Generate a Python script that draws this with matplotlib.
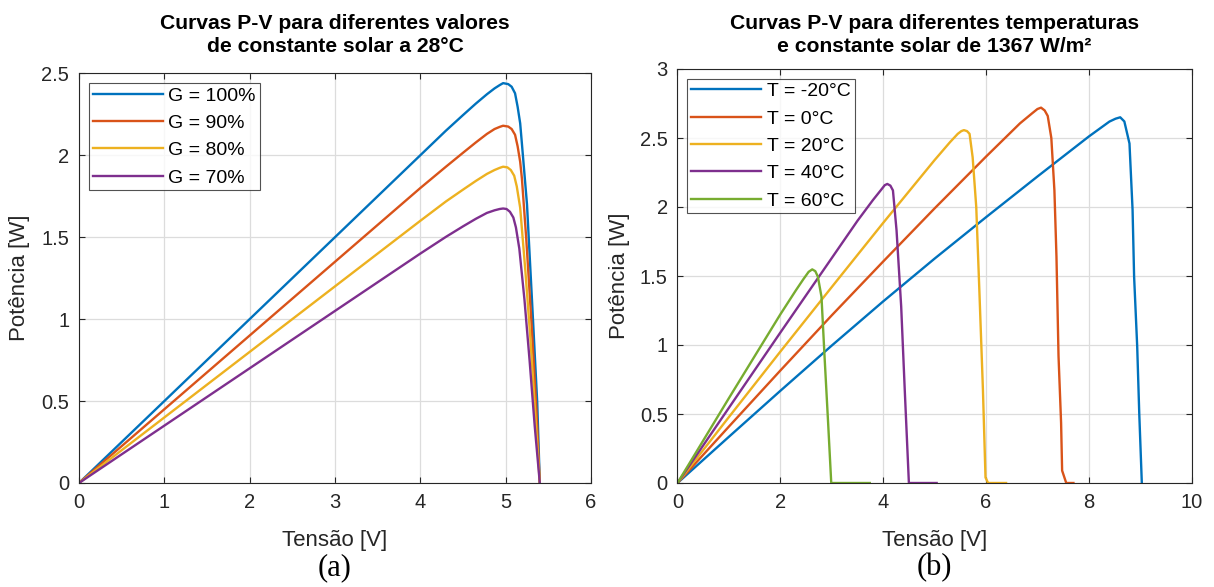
import matplotlib
matplotlib.use("Agg")
import matplotlib.pyplot as plt
from matplotlib.ticker import FuncFormatter, MultipleLocator

# ---------------- data (a) ----------------
g_labels = ['G = 100%', 'G = 90%', 'G = 80%', 'G = 70%']
v_g100 = [0, 4.0, 4.3, 4.5, 4.65, 4.78, 4.87, 4.93, 4.97, 5.03, 5.07, 5.11, 5.14, 5.17, 5.19, 5.25, 5.31, 5.37, 5.40]
p_g100 = [0, 2.0, 2.15, 2.245, 2.315, 2.372, 2.408, 2.428, 2.44, 2.434, 2.418, 2.378, 2.296, 2.195, 2.073, 1.70, 1.10, 0.49, 0.0]
v_g90 = [0, 4.0, 4.3, 4.5, 4.65, 4.78, 4.87, 4.93, 4.97, 5.03, 5.07, 5.11, 5.14, 5.17, 5.19, 5.24, 5.30, 5.36, 5.40]
p_g90 = [0, 1.8, 1.93, 2.015, 2.078, 2.13, 2.16, 2.173, 2.18, 2.175, 2.16, 2.125, 2.055, 1.96, 1.86, 1.50, 1.00, 0.45, 0]
v_g80 = [0, 4.0, 4.3, 4.5, 4.65, 4.78, 4.87, 4.93, 4.97, 5.02, 5.06, 5.10, 5.13, 5.17, 5.23, 5.29, 5.35, 5.40]
p_g80 = [0, 1.6, 1.718, 1.79, 1.843, 1.886, 1.91, 1.923, 1.93, 1.926, 1.91, 1.875, 1.81, 1.68, 1.30, 0.88, 0.40, 0]
v_g70 = [0, 4.0, 4.3, 4.5, 4.65, 4.78, 4.87, 4.93, 4.97, 5.01, 5.05, 5.09, 5.12, 5.16, 5.22, 5.28, 5.34, 5.40]
p_g70 = [0, 1.4, 1.502, 1.566, 1.612, 1.648, 1.664, 1.672, 1.675, 1.672, 1.655, 1.62, 1.56, 1.43, 1.12, 0.75, 0.35, 0]

# ---------------- data (b) ----------------
t_labels = ['T = -20°C', 'T = 0°C', 'T = 20°C', 'T = 40°C', 'T = 60°C']
v_tm20 = [0, 1, 2, 3, 4, 5, 6, 7, 8, 8.4, 8.52, 8.61, 8.69, 8.79, 8.85, 8.88, 8.94, 8.98, 9.03]
p_tm20 = [0, 0.335, 0.668, 0.996, 1.316, 1.626, 1.926, 2.221, 2.511, 2.619, 2.64, 2.65, 2.62, 2.46, 1.98, 1.495, 0.99, 0.505, 0]
v_t0 = [0, 1, 2, 3, 4, 5, 6, 6.66, 6.9, 7.0, 7.07, 7.14, 7.20, 7.27, 7.33, 7.37, 7.41, 7.46, 7.48, 7.56, 7.70]
p_t0 = [0, 0.409, 0.815, 1.215, 1.605, 1.99, 2.365, 2.606, 2.68, 2.71, 2.72, 2.70, 2.66, 2.50, 2.12, 1.64, 0.92, 0.435, 0.09, 0, 0]
v_t20 = [0, 1, 2, 3, 4, 5, 5.3, 5.45, 5.52, 5.57, 5.63, 5.68, 5.74, 5.81, 5.87, 5.94, 5.99, 6.04, 6.39]
p_t20 = [0, 0.478, 0.952, 1.42, 1.885, 2.34, 2.47, 2.53, 2.55, 2.557, 2.55, 2.53, 2.36, 2.0, 1.40, 0.675, 0.04, 0, 0]
v_t40 = [0, 1, 2, 3, 3.5, 3.8, 3.95, 4.03, 4.08, 4.14, 4.19, 4.26, 4.35, 4.42, 4.50, 5.04]
p_t40 = [0, 0.545, 1.09, 1.63, 1.90, 2.05, 2.12, 2.158, 2.167, 2.155, 2.12, 1.83, 1.28, 0.67, 0, 0]
v_t60 = [0, 1, 2, 2.3, 2.45, 2.55, 2.62, 2.68, 2.73, 2.80, 2.86, 2.93, 2.99, 3.74]
p_t60 = [0, 0.615, 1.222, 1.395, 1.478, 1.53, 1.548, 1.535, 1.495, 1.35, 0.915, 0.43, 0, 0]

colors = ['#0072BD', '#D95319', '#EDB120', '#7E2F8E', '#77AC30']

plt.rcParams['font.family'] = ['Liberation Sans', 'DejaVu Sans']
dark = '#262626'

W, H = 1214, 587
fig = plt.figure(figsize=(W / 100, H / 100), dpi=100)

def px_axes(x0, x1, ytop, ybot):
    return fig.add_axes([x0 / W, 1 - ybot / H, (x1 - x0) / W, (ybot - ytop) / H])

axA = px_axes(79, 591, 73.3, 483)
axB = px_axes(677.5, 1191.7, 69, 483)

fmt = FuncFormatter(lambda v, p: '%g' % v)

def style(ax, xmax, ymax, xstep, ystep):
    ax.set_xlim(0, xmax)
    ax.set_ylim(0, ymax)
    ax.xaxis.set_major_locator(MultipleLocator(xstep))
    ax.yaxis.set_major_locator(MultipleLocator(ystep))
    ax.xaxis.set_major_formatter(fmt)
    ax.yaxis.set_major_formatter(fmt)
    ax.grid(True, color='#dcdcdc', linewidth=0.9)
    ax.set_axisbelow(True)
    ax.tick_params(direction='in', top=True, right=True, length=4, width=0.8,
                   color=dark, labelcolor=dark, labelsize=14.5, pad=7)
    for s in ax.spines.values():
        s.set_color(dark)
        s.set_linewidth(0.8)
    ax.set_xlabel('Tensão [V]', fontsize=16, color=dark)
    ax.set_ylabel('Potência [W]', fontsize=16, color=dark)

style(axA, 6, 2.5, 1, 0.5)
style(axB, 10, 3, 2, 0.5)

lw = 1.7
for v, p, c, lab in zip([v_g100, v_g90, v_g80, v_g70], [p_g100, p_g90, p_g80, p_g70], colors, g_labels):
    axA.plot(v, p, color=c, lw=lw, label=lab)
for v, p, c, lab in zip([v_tm20, v_t0, v_t20, v_t40, v_t60], [p_tm20, p_t0, p_t20, p_t40, p_t60], colors, t_labels):
    axB.plot(v, p, color=c, lw=lw, label=lab)

for ax in (axA, axB):
    leg = ax.legend(loc='upper left', fontsize=14, frameon=True, fancybox=False,
                    handlelength=3.6, handletextpad=0.3, borderpad=0.2,
                    labelspacing=0.5, borderaxespad=0.5)
    leg.get_frame().set_edgecolor(dark)
    leg.get_frame().set_linewidth(0.8)
    for t in leg.get_texts():
        t.set_color('black')

axA.xaxis.set_label_coords(0.5, -0.115)
axB.xaxis.set_label_coords(0.5, -0.113)
axA.yaxis.set_label_coords(-0.096, 0.5)
axB.yaxis.set_label_coords(-0.093, 0.5)

fig.text(335 / W, 1 - 35 / H, 'Curvas P-V para diferentes valores\nde constante solar a 28°C',
         ha='center', va='center', fontsize=15.2, fontweight='bold', linespacing=1.25)
fig.text(934.5 / W, 1 - 35 / H, 'Curvas P-V para diferentes temperaturas\ne constante solar de 1367 W/m²',
         ha='center', va='center', fontsize=15.2, fontweight='bold', linespacing=1.25)

fig.text(335 / W, 1 - 568 / H, '(a)', ha='center', va='center', fontsize=22,
         family=['Liberation Serif', 'DejaVu Serif'])
fig.text(934.5 / W, 1 - 568 / H, '(b)', ha='center', va='center', fontsize=22,
         family=['Liberation Serif', 'DejaVu Serif'])

fig.savefig('out.png', dpi=100)
